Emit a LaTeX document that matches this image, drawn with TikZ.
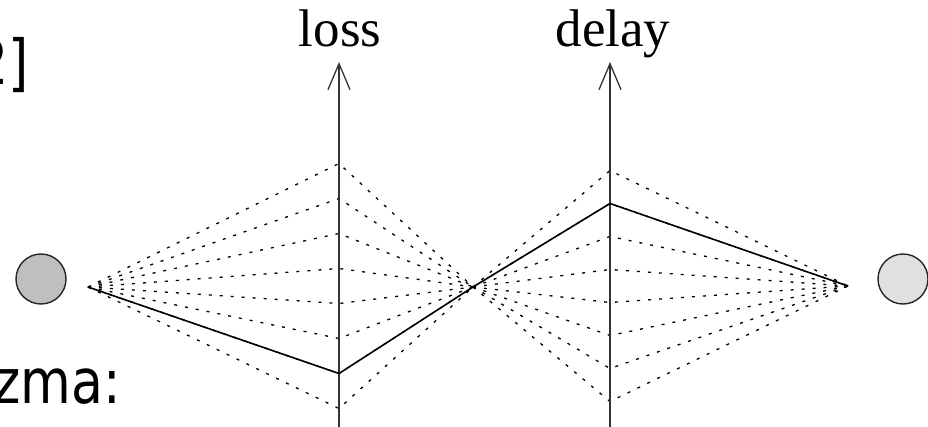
\documentclass[tikz,border=0pt]{standalone}
\usepackage{fontspec}
\newfontfamily\labsans[FakeStretch=0.84]{DejaVu Sans}
\newfontfamily\labserif{Liberation Serif}
\usetikzlibrary{arrows.meta}
\begin{document}
\begin{tikzpicture}[x=1pt,y=-1pt,
  axisline/.style={draw=black!80, line width=1.8pt, -{Straight Barb[length=26pt,width=22pt,line width=1.3pt]}},
  dotline/.style={draw=black, line width=1.3pt, dash pattern=on 3pt off 8pt},
  solidline/.style={draw=black, line width=1.6pt, line join=miter},
  endpoint/.style={circle, draw=black!85, line width=1.4pt, minimum size=50pt, inner sep=0pt},
  bigsans/.style={inner sep=0pt, font=\labsans\fontsize{62}{70}\selectfont},
  axislabel/.style={inner sep=0pt, anchor=base, font=\labserif\fontsize{53}{60}\selectfont}]
\useasboundingbox (0,0) rectangle (928,427);
\fill[white] (0,0) rectangle (928,427);

% partial texts
\node[bigsans, anchor=base east] (reftxt) at (29,85) {2]};
\node[bigsans, anchor=base east] (zmatxt) at (121,403) {zma:};

% end circles
\node[endpoint, fill=black!25] (srcA) at (41,279) {};
\node[endpoint, fill=black!12] (srcB) at (903,279) {};

% points
\coordinate (S) at (88,287);
\coordinate (M) at (473,287);
\coordinate (T) at (848,286);
\coordinate (lossbot) at (339,427);
\coordinate (losstop) at (339,62);
\coordinate (delaybot) at (610,427);
\coordinate (delaytop) at (610,62);
\foreach \k in {0,...,7} {
  \coordinate (L\k) at (339,{163.5+35*\k});
  \coordinate (D\k) at (610,{170.5+33*\k});
}

% dotted alternatives
\foreach \k in {0,...,7} {
  \draw[dotline] (S) -- (L\k) -- (M);
  \draw[dotline] (M) -- (D\k) -- (T);
}

% axes
\draw[axisline] (lossbot) -- (losstop);
\draw[axisline] (delaybot) -- (delaytop);
\node[axislabel] (losslab) at (340,47) {loss};
\node[axislabel] (delaylab) at (613,47) {delay};

% chosen path
\draw[solidline] (S) -- (L6) -- (M) -- (D1) -- (T);
\end{tikzpicture}
\end{document}
